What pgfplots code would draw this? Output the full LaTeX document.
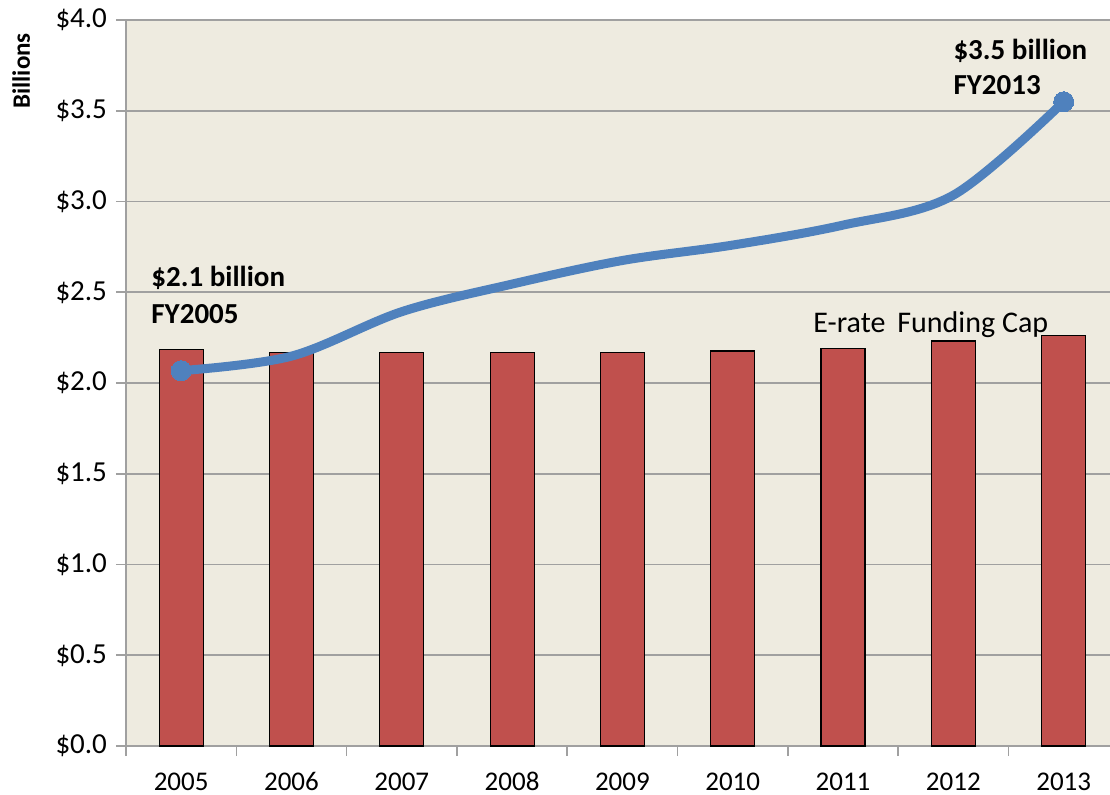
\documentclass[border=0pt]{standalone}
\usepackage{fontspec}
\setmainfont{Carlito}
\usepackage{pgfplots}
\pgfplotsset{compat=1.18}
\definecolor{bgc}{HTML}{EEEBE0}
\definecolor{barred}{HTML}{C0504D}
\definecolor{lineblue}{HTML}{4F81BD}
\definecolor{gridc}{HTML}{A0A0A0}
\begin{document}
\begin{tikzpicture}
\path[use as bounding box] (-63pt,-24pt) rectangle (492pt,373pt);
\begin{axis}[
  scale only axis,
  width=492pt, height=363pt,
  xmin=-0.5, xmax=8.42,
  ymin=0, ymax=4.0,
  axis background/.style={fill=bgc},
  axis x line=bottom, axis y line=left,
  axis line style={gridc, line width=0.8pt, -},
  tick align=outside,
  ytick={0,0.5,...,4.0},
  yticklabels={\$0.0,\$0.5,\$1.0,\$1.5,\$2.0,\$2.5,\$3.0,\$3.5,\$4.0},
  xtick={0,...,8},
  xticklabels={2005,2006,2007,2008,2009,2010,2011,2012,2013},
  minor xtick={-0.5,0.5,...,7.5},
  major x tick style={draw=none},
  minor x tick style={gridc, line width=0.8pt},
  minor tick length=5pt,
  major y tick style={gridc, line width=0.8pt},
  major tick length=5pt,
  ymajorgrids,
  major grid style={gridc, line width=0.8pt},
  yticklabel style={font=\fontsize{14.5}{16}\selectfont, xshift=-1pt},
  xticklabel style={font=\fontsize{13.5}{15}\selectfont, text height=9.5pt, text depth=0pt, anchor=north, yshift=-4pt},
  /pgf/number format/assume math mode=true,
  clip=false,
]
\addplot[ybar, bar width=22pt, fill=barred, draw=black, line width=0.6pt] coordinates {
  (0,2.185) (1,2.169) (2,2.169) (3,2.170) (4,2.169) (5,2.176) (6,2.190) (7,2.231) (8,2.263)
};
\addplot[lineblue, line width=4.5pt, smooth, tension=0.55, mark=*, mark size=5pt, mark indices={1,9}, mark options={fill=lineblue, draw=lineblue, line width=0pt}] coordinates {
  (0,2.068) (1,2.148) (2,2.393) (3,2.545) (4,2.675) (5,2.760) (6,2.870) (7,3.035) (8,3.550)
};
\node[anchor=base west, inner sep=0pt, font=\bfseries\fontsize{14.5}{16}\selectfont] at (axis cs:-0.273,2.529) {\$2.1 billion};
\node[anchor=base west, inner sep=0pt, font=\bfseries\fontsize{14.5}{16}\selectfont] at (axis cs:-0.273,2.330) {FY2005};
\node[anchor=base west, inner sep=0pt, font=\bfseries\fontsize{14.5}{16}\selectfont] at (axis cs:6.998,3.785) {\$3.5 billion};
\node[anchor=base west, inner sep=0pt, font=\bfseries\fontsize{14.5}{16}\selectfont] at (axis cs:6.998,3.587) {FY2013};
\node[anchor=base west, inner sep=0pt, font=\fontsize{15}{17}\selectfont] at (axis cs:5.728,2.281) {E-rate\hspace{0.4em}Funding Cap};
\node[rotate=90, inner sep=0pt, font=\bfseries\fontsize{12.5}{14}\selectfont] at (axis cs:-1.45,3.72) {Billions};
\end{axis}
\end{tikzpicture}
\end{document}
